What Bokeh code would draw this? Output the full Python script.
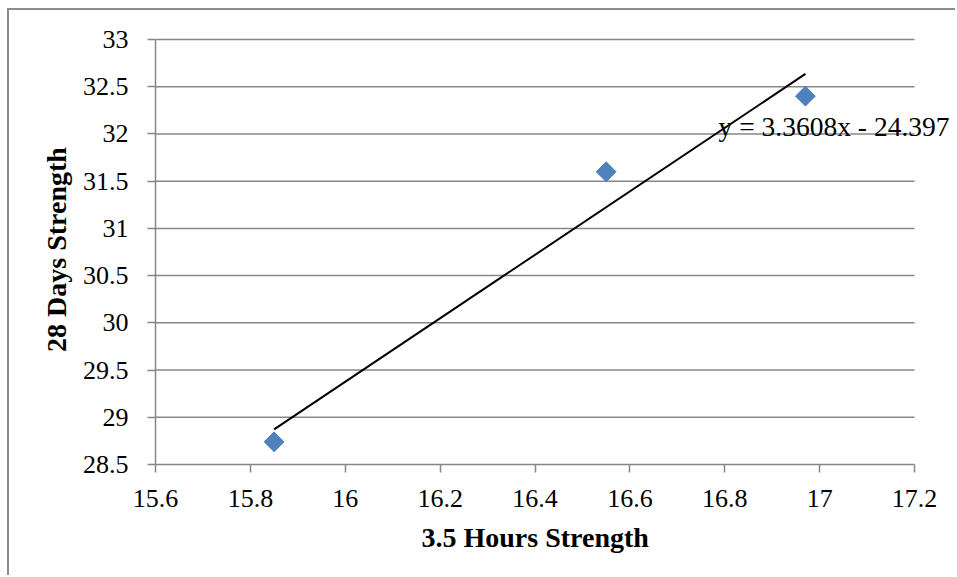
import numpy as np
from bokeh.plotting import figure
from bokeh.models import FixedTicker, CustomJSTickFormatter, Label, Title
from bokeh.embed import file_html
from bokeh.resources import INLINE

# data
hours_strength = [15.85, 16.55, 16.97]
days_strength = [28.74, 31.60, 32.40]
trend_slope = 3.3608
trend_intercept = -24.397
trend_label = "y = 3.3608x - 24.397"

x_ticks = [15.6, 15.8, 16.0, 16.2, 16.4, 16.6, 16.8, 17.0, 17.2]
y_ticks = [28.5, 29.0, 29.5, 30.0, 30.5, 31.0, 31.5, 32.0, 32.5, 33.0]
x_title = "3.5 Hours Strength"
y_title = "28 Days Strength"

FONT = "Liberation Serif"
GRAY = "#878787"

# frame is extended to the right/top so the equation label is not clipped;
# axes are bounded to the tick span
p = figure(width=948, height=567, output_backend="svg", toolbar_location=None,
           x_range=(x_ticks[0], 17.2906), y_range=(y_ticks[0], 33.053),
           min_border_left=146, min_border_right=0, min_border_top=24, min_border_bottom=113,
           margin=(8, 0, 0, 7),
           styles={"border-left": "2px solid #8c8c8c", "border-top": "2px solid #8c8c8c"})
p.outline_line_color = None
p.background_fill_color = "white"
p.border_fill_color = "white"
p.grid.visible = False

# horizontal gridlines over the tick span only
p.segment(x0=[x_ticks[0]] * (len(y_ticks) - 1), x1=[x_ticks[-1]] * (len(y_ticks) - 1),
          y0=y_ticks[1:], y1=y_ticks[1:], line_color=GRAY, line_width=1.5)

fmt = CustomJSTickFormatter(code="return String(Math.round(tick*10)/10);")
for ax, ticks in ((p.xaxis[0], x_ticks), (p.yaxis[0], y_ticks)):
    ax.ticker = FixedTicker(ticks=ticks)
    ax.bounds = (ticks[0], ticks[-1])
    ax.formatter = fmt
    ax.axis_line_color = GRAY
    ax.axis_line_width = 1.5
    ax.major_tick_line_color = GRAY
    ax.major_tick_line_width = 1.5
    ax.major_tick_out = 8
    ax.major_tick_in = 0
    ax.minor_tick_line_color = None
    ax.major_label_text_font = FONT
    ax.major_label_text_font_size = "26px"
    ax.major_label_text_color = "black"
    ax.axis_label_text_font = FONT
    ax.axis_label_text_font_size = "28px"
    ax.axis_label_text_font_style = "bold"
    ax.axis_label_text_color = "black"

p.yaxis.axis_label = y_title
p.xaxis.major_label_standoff = 17
p.yaxis.major_label_standoff = 19
p.yaxis.axis_label_standoff = 8

# x axis title, centred under the tick span (155..914 px)
p.add_layout(Title(text=x_title, align="left", offset=266, text_font=FONT,
                   text_font_size="28px", text_font_style="bold", text_color="black",
                   vertical_align="top", standoff=24), "below")

# trendline
tx = np.array([min(hours_strength), max(hours_strength)])
ty = trend_slope * tx + trend_intercept
p.line(tx, ty, line_color="black", line_width=2)

# markers
p.scatter(hours_strength, days_strength, marker="square", angle=np.pi / 4, size=14,
          fill_color="#4F81BD", line_color="#4A7EBB", line_width=1)

# trendline equation
p.add_layout(Label(x=16.787, y=32.08, text=trend_label, text_font=FONT,
                   text_font_size="27.5px", text_color="black",
                   text_baseline="middle", text_align="left"))

open("out.html", "w").write(file_html(p, INLINE))
